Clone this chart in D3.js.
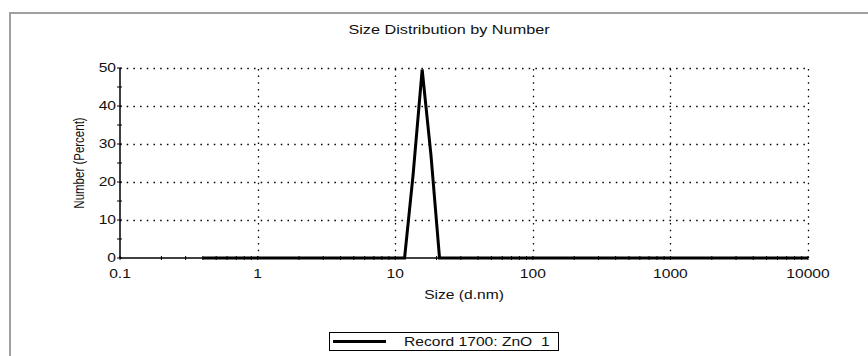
<!DOCTYPE html>
<html>
<head>
<meta charset="utf-8">
<script src="https://cdn.jsdelivr.net/npm/d3@7"></script>
<style>
  body { margin: 0; background: #fff; }
  svg { display: block; font-family: "Liberation Sans", Arial, sans-serif; }
</style>
</head>
<body>
<div id="chart"></div>
<script>
// Data
const sizes = [0.4, 11.7, 13.5, 15.7, 18.2, 21.0, 10000];
const numbers = [0, 0, 22, 49.6, 27, 0, 0];
const xTicks = [0.1, 1, 10, 100, 1000, 10000];
const yTicks = [0, 10, 20, 30, 40, 50];
const seriesName = 'Record 1700: ZnO  1';

const width = 868, height = 356;
const m = { left: 120, right: 60, top: 68, bottom: 98 };
const sx = 1.3; // the original picture is stretched sideways

const svg = d3.select('#chart').append('svg')
  .attr('width', width)
  .attr('height', height);

// text helper, stretched horizontally like the source image
function label(parent, tx, ty, str, size, anchor, rot) {
  return parent.append('text')
    .attr('transform', rot
      ? `translate(${tx},${ty}) rotate(-90) scale(1,${sx})`
      : `translate(${tx},${ty}) scale(${sx},1)`)
    .attr('text-anchor', anchor || 'middle')
    .attr('font-size', size)
    .attr('fill', '#111')
    .style('white-space', 'pre')
    .text(str);
}

// outer frame (top and left only visible)
svg.append('path')
  .attr('d', `M10,${height} V13 H${width}`)
  .attr('fill', 'none')
  .attr('stroke', '#a0a0a0')
  .attr('stroke-width', 2);

const x = d3.scaleLog().domain([0.1, 10000]).range([m.left, width - m.right]);
const y = d3.scaleLinear().domain([0, 50]).range([height - m.bottom, m.top]);

// grid
const grid = svg.append('g')
  .attr('stroke', '#000')
  .attr('stroke-width', 1.3)
  .attr('stroke-dasharray', '1.5,5.2');
grid.selectAll('line.v').data(xTicks.slice(1)).enter().append('line')
  .attr('x1', d => Math.round(x(d)) + 0.5).attr('x2', d => Math.round(x(d)) + 0.5)
  .attr('y1', y(0)).attr('y2', y(50));
grid.selectAll('line.h').data(yTicks.slice(1)).enter().append('line')
  .attr('x1', x(0.1)).attr('x2', x(10000))
  .attr('y1', d => Math.round(y(d)) + 0.5).attr('y2', d => Math.round(y(d)) + 0.5);

// x axis
const minor = [];
for (let e = -1; e < 4; e++) for (let k = 2; k < 10; k++) minor.push(k * Math.pow(10, e));
const xAxis = svg.append('g').attr('transform', `translate(0,${y(0)})`);
xAxis.append('line')
  .attr('x1', x(0.1)).attr('x2', x(10000))
  .attr('stroke', '#000').attr('stroke-width', 1.5);
xAxis.selectAll('line.mt').data(minor.concat(xTicks)).enter().append('line')
  .attr('x1', d => x(d)).attr('x2', d => x(d))
  .attr('y1', -2).attr('y2', 2)
  .attr('stroke', '#000').attr('stroke-width', 1);
xTicks.forEach(d => label(xAxis, x(d), 20, d3.format('~g')(d), 12));

// y axis
const yAxis = svg.append('g').attr('transform', `translate(${x(0.1)},0)`);
yAxis.append('line')
  .attr('y1', y(0)).attr('y2', y(50))
  .attr('stroke', '#000').attr('stroke-width', 1.5);
yAxis.selectAll('line.t').data(d3.range(0, 51, 5)).enter().append('line')
  .attr('x1', -3).attr('x2', 2)
  .attr('y1', d => y(d)).attr('y2', d => y(d))
  .attr('stroke', '#000').attr('stroke-width', 1);
yTicks.forEach(d => label(yAxis, -4, y(d) + 4, String(d), 12, 'end'));

// series
const line = d3.line().x(d => x(d[0])).y(d => y(d[1]));
svg.append('path')
  .datum(d3.zip(sizes, numbers))
  .attr('d', line)
  .attr('fill', 'none')
  .attr('stroke', '#000')
  .attr('stroke-width', 3)
  .attr('stroke-linejoin', 'miter');

// titles
label(svg, 449, 34, 'Size Distribution by Number', 12.5);
label(svg, 464, 299, 'Size (d.nm)', 12);
label(svg, 84, (y(0) + y(50)) / 2, 'Number (Percent)', 11.5, 'middle', true);

// legend
const lg = svg.append('g').attr('transform', 'translate(329,332)');
lg.append('rect')
  .attr('x', 0.5).attr('y', 0.5).attr('width', 229).attr('height', 18)
  .attr('fill', '#fff').attr('stroke', '#000').attr('stroke-width', 1);
lg.append('line')
  .attr('x1', 4).attr('x2', 57).attr('y1', 9.5).attr('y2', 9.5)
  .attr('stroke', '#000').attr('stroke-width', 3);
label(lg, 75, 14, seriesName, 12, 'start');
</script>
</body>
</html>
